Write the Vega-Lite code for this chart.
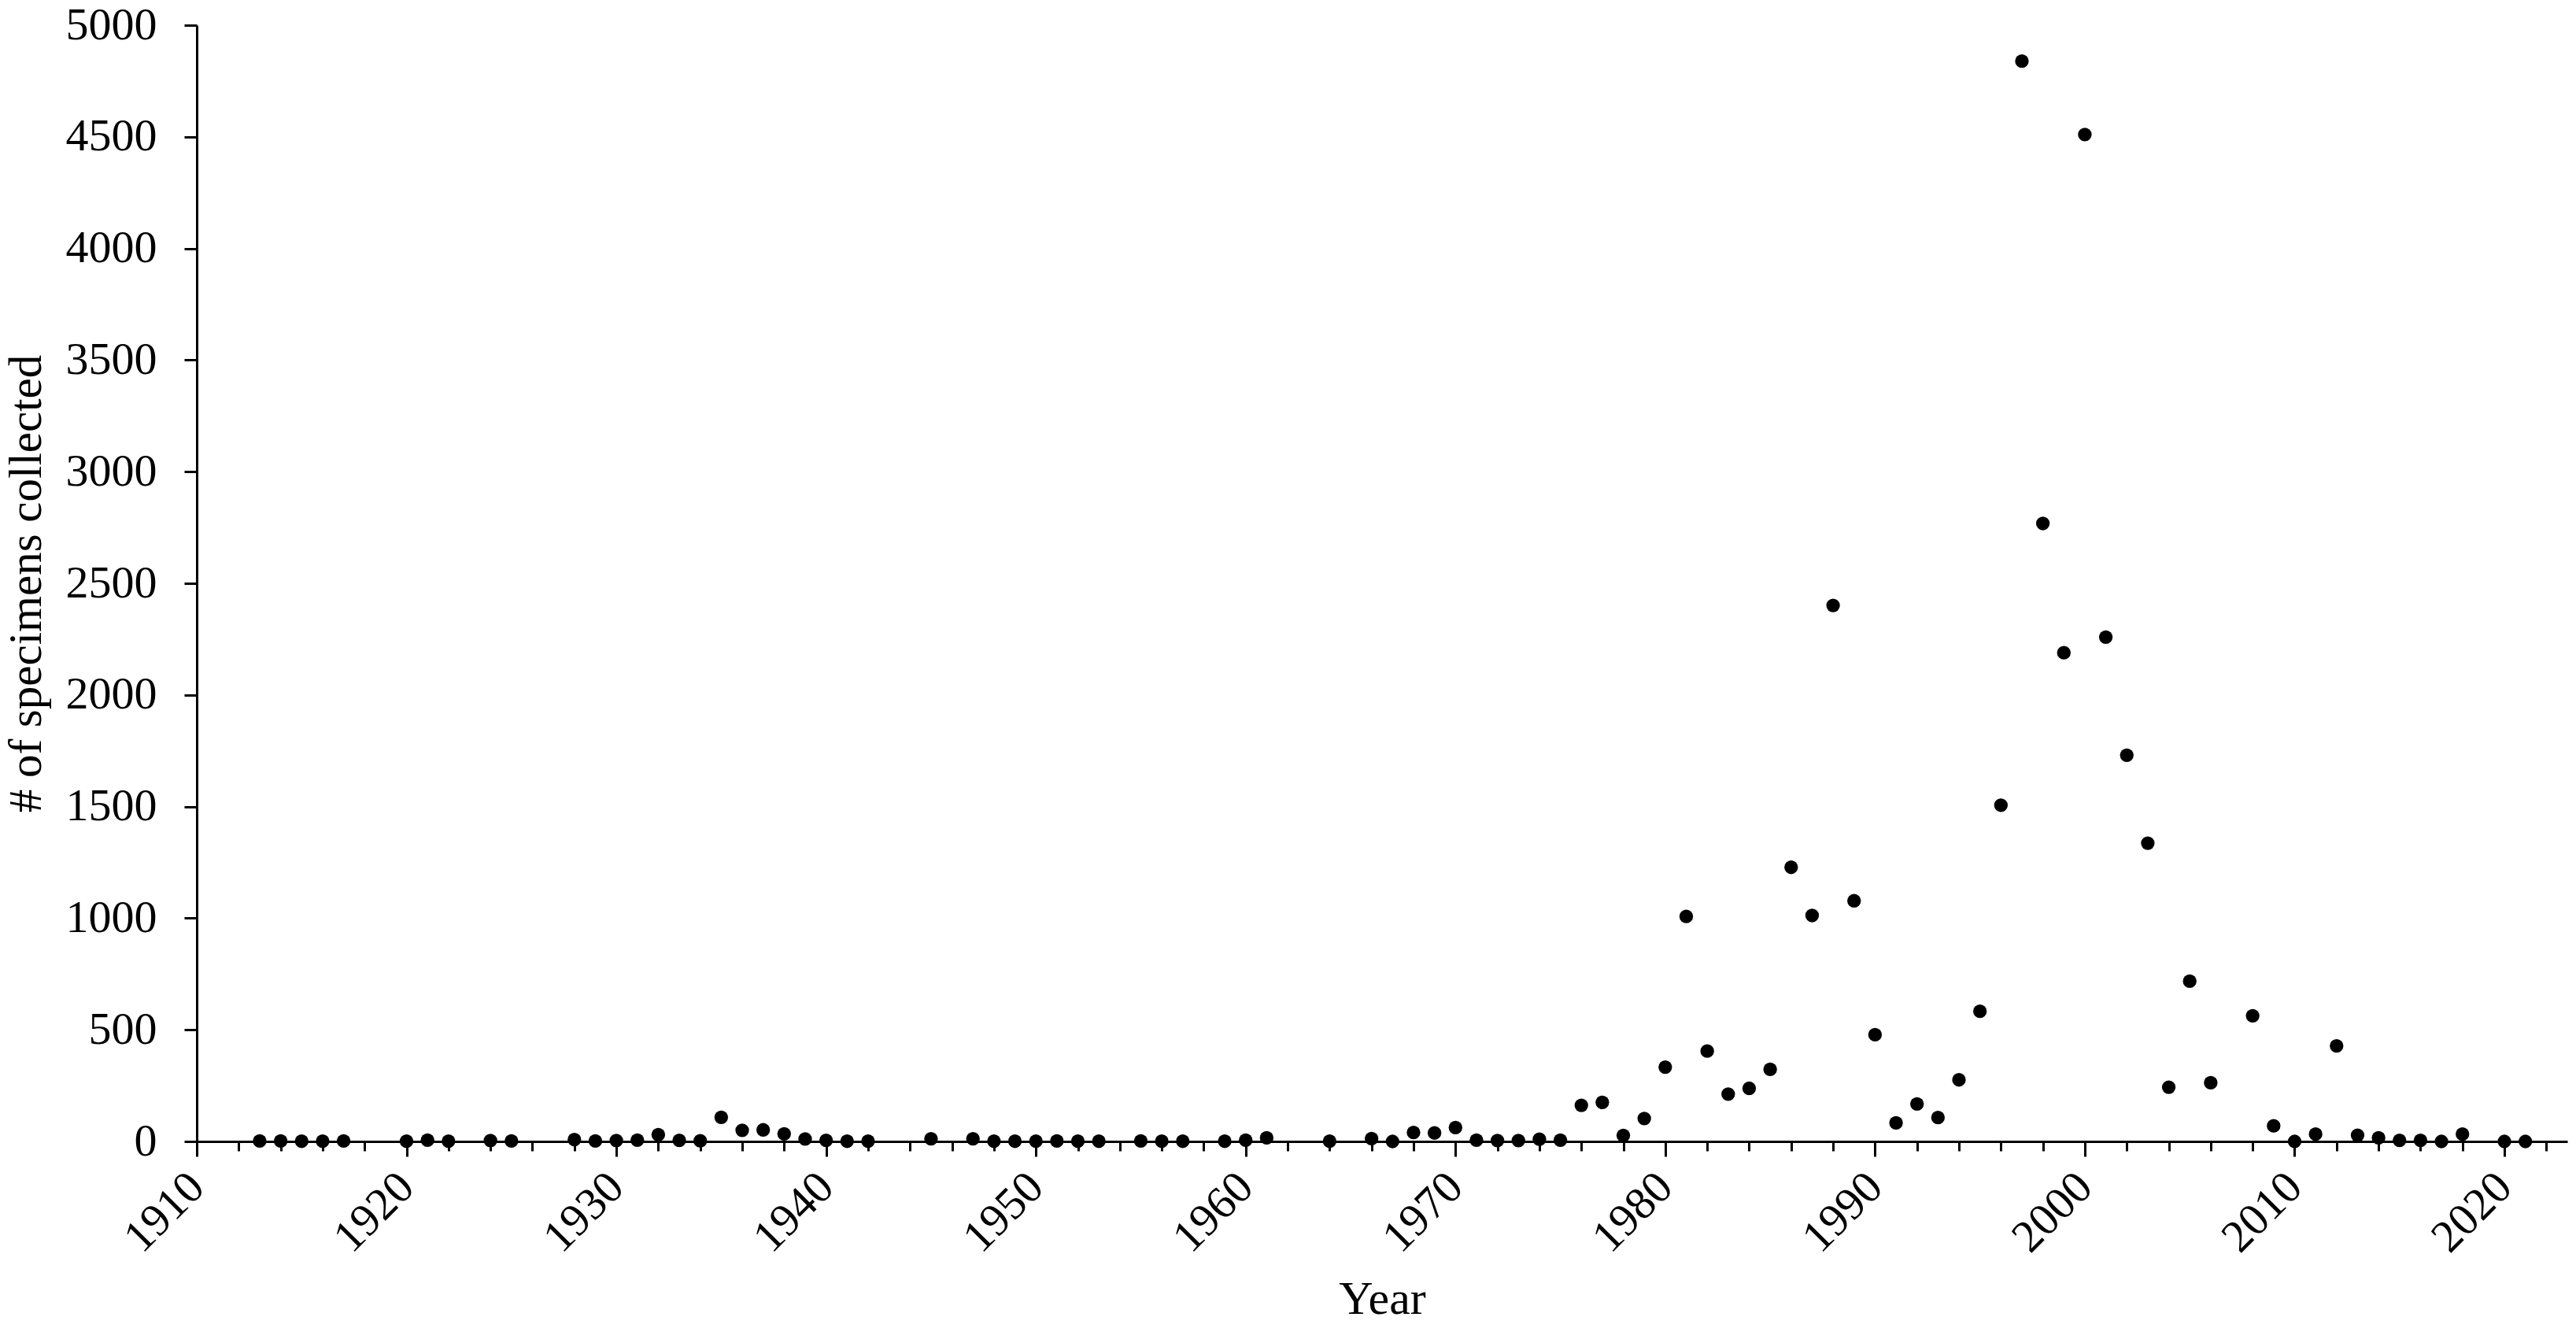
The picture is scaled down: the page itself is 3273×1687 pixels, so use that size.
{
  "$schema": "https://vega.github.io/schema/vega-lite/v6.json",
  "autosize": "none",
  "width": 3012,
  "height": 1418,
  "padding": {"left": 250, "top": 32, "right": 11, "bottom": 237},
  "background": "white",
  "config": {"view": {"stroke": null}, "font": "Liberation Serif"},
  "data": {"values": [
    {"Year": 1913, "Count": 2}, {"Year": 1914, "Count": 2}, {"Year": 1915, "Count": 1}, {"Year": 1916, "Count": 1}, {"Year": 1917, "Count": 2},
    {"Year": 1920, "Count": 1}, {"Year": 1921, "Count": 6}, {"Year": 1922, "Count": 1}, {"Year": 1924, "Count": 4}, {"Year": 1925, "Count": 2},
    {"Year": 1928, "Count": 8}, {"Year": 1929, "Count": 2}, {"Year": 1930, "Count": 4}, {"Year": 1931, "Count": 6}, {"Year": 1932, "Count": 30},
    {"Year": 1933, "Count": 5}, {"Year": 1934, "Count": 3}, {"Year": 1935, "Count": 108}, {"Year": 1936, "Count": 50}, {"Year": 1937, "Count": 52},
    {"Year": 1938, "Count": 34}, {"Year": 1939, "Count": 11}, {"Year": 1940, "Count": 5}, {"Year": 1941, "Count": 1}, {"Year": 1942, "Count": 1},
    {"Year": 1945, "Count": 12}, {"Year": 1947, "Count": 12}, {"Year": 1948, "Count": 1}, {"Year": 1949, "Count": 1}, {"Year": 1950, "Count": 1},
    {"Year": 1951, "Count": 2}, {"Year": 1952, "Count": 1}, {"Year": 1953, "Count": 1}, {"Year": 1955, "Count": 2}, {"Year": 1956, "Count": 1},
    {"Year": 1957, "Count": 1}, {"Year": 1959, "Count": 1}, {"Year": 1960, "Count": 6}, {"Year": 1961, "Count": 16}, {"Year": 1964, "Count": 1},
    {"Year": 1966, "Count": 13}, {"Year": 1967, "Count": 0}, {"Year": 1968, "Count": 40}, {"Year": 1969, "Count": 38}, {"Year": 1970, "Count": 62},
    {"Year": 1971, "Count": 6}, {"Year": 1972, "Count": 4}, {"Year": 1973, "Count": 4}, {"Year": 1974, "Count": 10}, {"Year": 1975, "Count": 6},
    {"Year": 1976, "Count": 162}, {"Year": 1977, "Count": 175}, {"Year": 1978, "Count": 27}, {"Year": 1979, "Count": 103}, {"Year": 1980, "Count": 333},
    {"Year": 1981, "Count": 1008}, {"Year": 1982, "Count": 405}, {"Year": 1983, "Count": 212}, {"Year": 1984, "Count": 238}, {"Year": 1985, "Count": 323},
    {"Year": 1986, "Count": 1228}, {"Year": 1987, "Count": 1012}, {"Year": 1988, "Count": 2401}, {"Year": 1989, "Count": 1078}, {"Year": 1990, "Count": 478},
    {"Year": 1991, "Count": 83}, {"Year": 1992, "Count": 168}, {"Year": 1993, "Count": 107}, {"Year": 1994, "Count": 276}, {"Year": 1995, "Count": 583},
    {"Year": 1996, "Count": 1506}, {"Year": 1997, "Count": 4839}, {"Year": 1998, "Count": 2768}, {"Year": 1999, "Count": 2189}, {"Year": 2000, "Count": 4510},
    {"Year": 2001, "Count": 2259}, {"Year": 2002, "Count": 1730}, {"Year": 2003, "Count": 1336}, {"Year": 2004, "Count": 243}, {"Year": 2005, "Count": 718},
    {"Year": 2006, "Count": 263}, {"Year": 2008, "Count": 563}, {"Year": 2009, "Count": 70}, {"Year": 2010, "Count": 0}, {"Year": 2011, "Count": 33},
    {"Year": 2012, "Count": 428}, {"Year": 2013, "Count": 28}, {"Year": 2014, "Count": 16}, {"Year": 2015, "Count": 5}, {"Year": 2016, "Count": 5},
    {"Year": 2017, "Count": 0}, {"Year": 2018, "Count": 33}, {"Year": 2020, "Count": 0}, {"Year": 2021, "Count": 0}
  ]},
  "mark": {"type": "circle", "size": 300, "color": "black", "opacity": 1},
  "encoding": {
    "x": {
      "field": "Year", "type": "quantitative",
      "scale": {"domain": [1910, 2023], "nice": false, "zero": false},
      "axis": {
        "title": "Year",
        "values": [1910,1912,1914,1916,1918,1920,1922,1924,1926,1928,1930,1932,1934,1936,1938,1940,1942,1944,1946,1948,1950,1952,1954,1956,1958,1960,1962,1964,1966,1968,1970,1972,1974,1976,1978,1980,1982,1984,1986,1988,1990,1992,1994,1996,1998,2000,2002,2004,2006,2008,2010,2012,2014,2016,2018,2020,2022],
        "format": "d",
        "labelExpr": "datum.value % 10 === 0 ? datum.label : ''",
        "grid": false,
        "domainColor": "black", "domainWidth": 3,
        "tickColor": "black", "tickWidth": 3,
        "tickSize": {"condition": {"test": "datum.value % 10 === 0", "value": 19}, "value": 12},
        "labelAngle": -45, "labelAlign": "right", "labelBaseline": "middle",
        "labelFontSize": 58, "labelFont": "Liberation Serif", "labelColor": "black",
        "labelPadding": 30, "labelOverlap": false, "labelBound": false, "labelFlush": false,
        "titleFont": "Liberation Serif", "titleFontSize": 60, "titleFontWeight": "normal", "titleColor": "black",
        "titlePadding": 20
      }
    },
    "y": {
      "field": "Count", "type": "quantitative",
      "scale": {"domain": [0, 5000], "nice": false},
      "axis": {
        "title": "# of specimens collected",
        "values": [0,500,1000,1500,2000,2500,3000,3500,4000,4500,5000],
        "format": "d",
        "grid": false,
        "domainColor": "black", "domainWidth": 3,
        "tickColor": "black", "tickWidth": 3, "tickSize": 16,
        "labelFontSize": 58, "labelFont": "Liberation Serif", "labelColor": "black",
        "labelPadding": 35, "labelOverlap": false, "labelBound": false, "labelFlush": false,
        "titleFont": "Liberation Serif", "titleFontSize": 59, "titleFontWeight": "normal", "titleColor": "black",
        "titlePadding": 20
      }
    }
  }
}
